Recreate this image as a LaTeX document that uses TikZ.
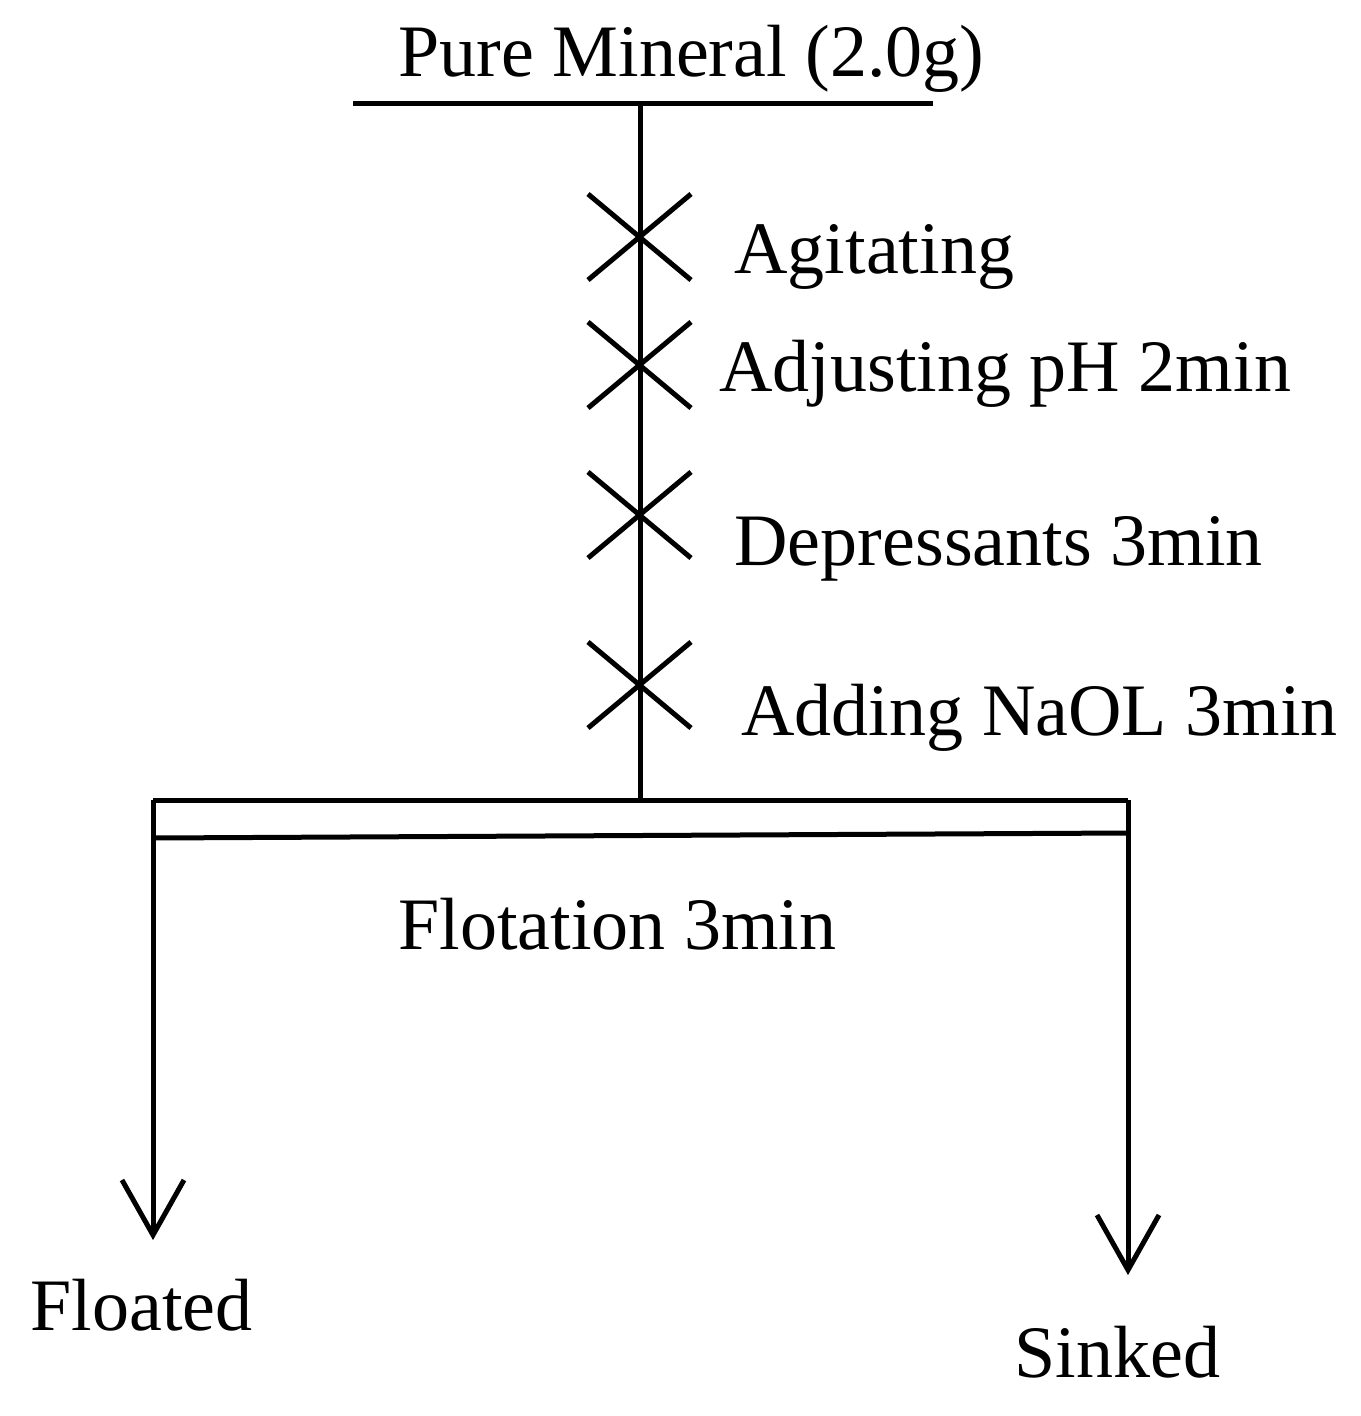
\documentclass[tikz,border=0pt]{standalone}
\usepackage{fontspec}
\setmainfont{Liberation Serif}
\begin{document}
\begin{tikzpicture}[x=1pt,y=-1pt,line width=5pt,
  lbl/.style={anchor=base west,inner sep=0pt,font=\fontsize{74}{80}\selectfont}]
\useasboundingbox (0,0) rectangle (1360,1416);
\node[lbl] (pm) at (396,76) {Pure Mineral (2.0g)};
\coordinate (tl) at (353,103); \coordinate (tr) at (933,103);
\coordinate (t) at (640,103); \coordinate (b) at (640,800);
\draw (tl) -- (tr);
\draw (t) -- (b);
\foreach \y in {237,365,515,685}{
  \draw (588,\y-43) -- (691,\y+43);
  \draw (588,\y+43) -- (691,\y-43);
}
\node[lbl] (a1) at (732,273) {Agitating};
\node[lbl] (a2) at (717,391) {Adjusting pH 2min};
\node[lbl] (a3) at (732,565) {Depressants 3min};
\node[lbl] (a4) at (739,735) {Adding NaOL 3min};
\coordinate (bl) at (153,800); \coordinate (br) at (1128,800);
\draw (bl) -- (br);
\draw (153,838) -- (1128,833);
\coordinate (le) at (153,1235); \coordinate (re) at (1128,1270);
\draw (bl) -- (le);
\draw (br) -- (re);
\draw (122,1180) -- (le) -- (184,1180);
\draw (1097,1215) -- (re) -- (1159,1215);
\node[lbl] (fl) at (396,949) {Flotation 3min};
\node[lbl] (fd) at (28,1330) {Floated};
\node[lbl] (sk) at (1012,1377) {Sinked};
\end{tikzpicture}
\end{document}
